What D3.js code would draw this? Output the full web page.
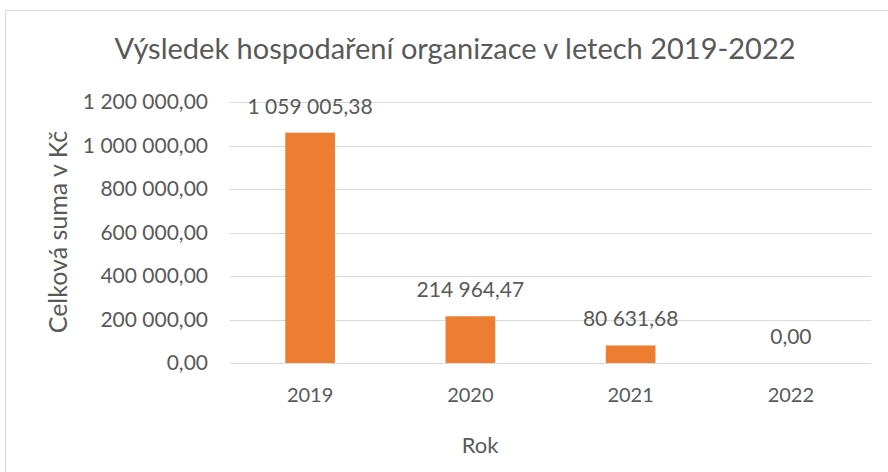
<!DOCTYPE html>
<html><head><meta charset="utf-8">
<script src="https://cdn.jsdelivr.net/npm/d3@7"></script>
<style>body{margin:0;background:#fff}svg{display:block}text{font-family:Lato,"Open Sans",sans-serif;fill:#595959}</style>
</head><body><svg id="c" width="888" height="472"></svg>
<script>
const years = ["2019","2020","2021","2022"];
const values = [1059005.38, 214964.47, 80631.68, 0];
const valueLabels = ["1 059 005,38","214 964,47","80 631,68","0,00"];
const yTicks = [0,200000,400000,600000,800000,1000000,1200000];
const yTickLabels = ["0,00","200 000,00","400 000,00","600 000,00","800 000,00","1 000 000,00","1 200 000,00"];

const svg = d3.select("#c");
svg.append("rect").attr("x",5.5).attr("y",10.5).attr("width",900).attr("height",500)
  .attr("fill","#fff").attr("stroke","#d9d9d9");

const x = d3.scaleBand().domain(years).range([230,871]).paddingInner(0.69).paddingOuter(0.345);
const y = d3.scaleLinear().domain([0,1200000]).range([363,102]);

svg.append("g").selectAll("line").data(yTicks).join("line")
  .attr("x1",230).attr("x2",871).attr("y1",d=>Math.round(y(d))+0.5).attr("y2",d=>Math.round(y(d))+0.5)
  .attr("stroke","#d9d9d9").attr("stroke-width",1);

svg.append("g").selectAll("text").data(yTicks).join("text")
  .attr("x",208).attr("y",d=>y(d)).attr("dy","0.35em").attr("text-anchor","end")
  .attr("font-size",21).text((d,i)=>yTickLabels[i]);

svg.append("g").selectAll("rect").data(values).join("rect")
  .attr("x",(d,i)=>x(years[i])).attr("width",x.bandwidth())
  .attr("y",d=>y(d)).attr("height",d=>y(0)-y(d)).attr("fill","#ED7D31");

svg.append("g").selectAll("text").data(values).join("text")
  .attr("x",(d,i)=>x(years[i])+x.bandwidth()/2).attr("y",d=>y(d)-19)
  .attr("text-anchor","middle").attr("font-size",21).text((d,i)=>valueLabels[i]);

svg.append("g").selectAll("text").data(years).join("text")
  .attr("x",d=>x(d)+x.bandwidth()/2).attr("y",402)
  .attr("text-anchor","middle").attr("font-size",20).text(d=>d);

svg.append("text").attr("x",455).attr("y",59).attr("text-anchor","middle")
  .attr("font-size",29).text("Výsledek hospodaření organizace v letech 2019-2022");
svg.append("text").attr("x",480).attr("y",453).attr("text-anchor","middle")
  .attr("font-size",22).text("Rok");
svg.append("text").attr("transform","translate(67,232) rotate(-90)").attr("text-anchor","middle")
  .attr("font-size",25).text("Celková suma v Kč");
</script></body></html>
